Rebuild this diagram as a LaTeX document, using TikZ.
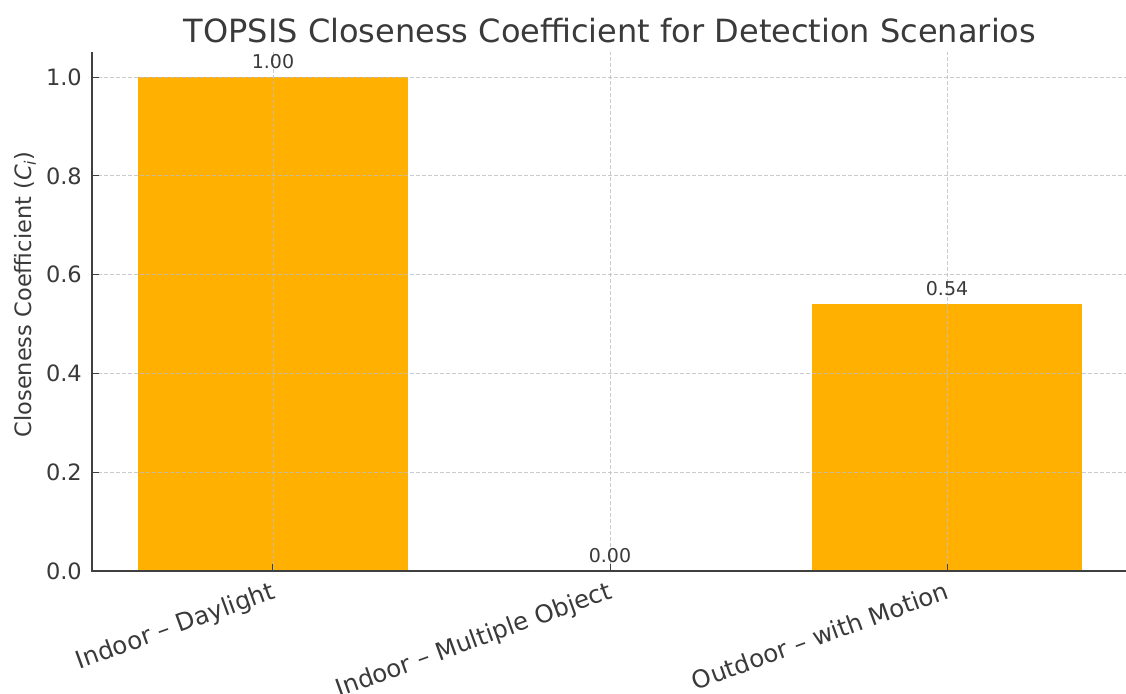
\documentclass[tikz,border=0pt]{standalone}
\usepackage{fontspec}
\setmainfont{DejaVu Sans}
\definecolor{barorange}{RGB}{255,176,0}
\definecolor{txtgray}{RGB}{58,58,58}
\definecolor{gridgray}{RGB}{190,190,190}
\definecolor{spinegray}{RGB}{64,64,64}
\tikzset{
  gridline/.style={gridgray,line width=0.9pt,dash pattern=on 4pt off 2pt,opacity=0.8},
  spine/.style={spinegray,line width=1.6pt},
  ticklabel/.style={txtgray,inner sep=0pt,font=\fontsize{22.5}{27}\selectfont},
  catlabel/.style={txtgray,inner sep=0pt,font=\fontsize{24.5}{30}\selectfont,xshift=-3pt,yshift=-9pt,rotate=20,anchor=north east},
  vallabel/.style={txtgray,anchor=south,inner sep=0pt,yshift=8pt,font=\fontsize{19}{23}\selectfont},
  charttitle/.style={txtgray,inner sep=0pt,font=\fontsize{32}{38}\selectfont},
}

\begin{document}
\begin{tikzpicture}[x=337pt,y=494pt]
        \useasboundingbox (-0.810,-0.247) rectangle (2.531,1.156);
        \fill[white] (-0.810,-0.247) rectangle (2.531,1.156);
        \fill[barorange] (-0.4,0) rectangle (0.4,1.00);
        \fill[barorange] (1.6,0) rectangle (2.4,0.54);
        \foreach \v in {0.2,0.4,0.6,0.8,1.0}
          \draw[gridline] (-0.537,\v) -- (2.531,\v);
        \foreach \c in {0,1,2}
          \draw[gridline] (\c,0) -- (\c,1.0506);
        \draw[spine] (-0.537,1.0506) -- (-0.537,0) -- (2.531,0);
        \foreach \v in {0.0,0.2,0.4,0.6,0.8,1.0} {
          \draw[spinegray,line width=1pt] (-0.537,\v) -- ++(7pt,0);
          \node (ytick\v) at (-0.537,\v) [ticklabel,anchor=east,xshift=-10pt] {\v};
        }
        \foreach \c in {0,1,2}
          \draw[spinegray,line width=1pt] (\c,0) -- ++(0,7pt);
        \node (xlab1) at (0,0) [catlabel] {Indoor – Daylight};
        \node (xlab2) at (1,0) [catlabel] {Indoor – Multiple Object};
        \node (xlab3) at (2,0) [catlabel] {Outdoor – with Motion};
        \node (val1) at (0,1.00) [vallabel] {1.00};
        \node (val2) at (1,0.00) [vallabel] {0.00};
        \node (val3) at (2,0.54) [vallabel] {0.54};
        \node (ylab) at (-0.736,0.56) [ticklabel,rotate=90] {Closeness Coefficient ({\itshape C}\textsubscript{\itshape i})};
        \node (title) at (1.0,1.095) [charttitle] {TOPSIS Closeness Coefficient for Detection Scenarios};
      \end{tikzpicture}
\end{document}
